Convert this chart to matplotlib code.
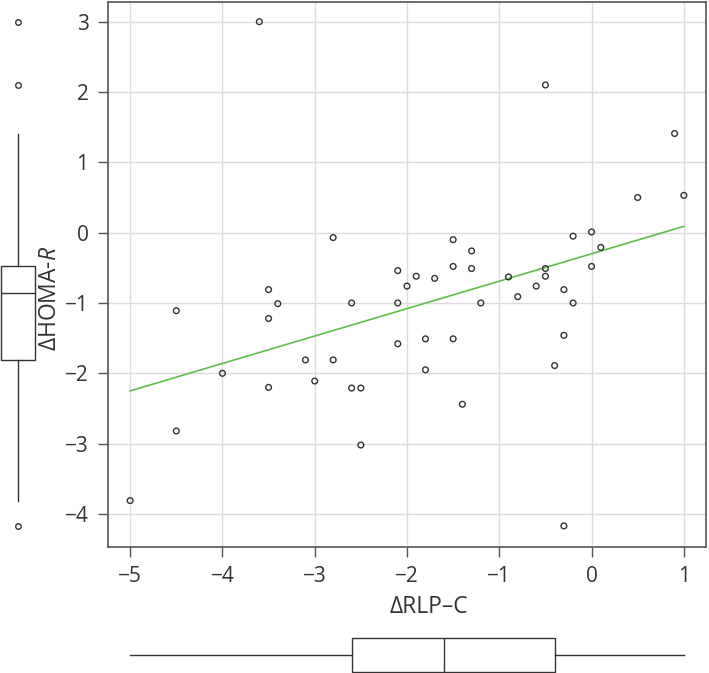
import numpy as np
import matplotlib
matplotlib.use('Agg')
import matplotlib.pyplot as plt

# data (ΔRLP-C vs ΔHOMA-R)
rlp_c = [-3.6, -2.8, -2.1, -0.5, 0.9, 0.5, 1.0, -0.2, 0.0, 0.1,
         -1.5, -1.3, -1.5, -1.3, -1.9, -1.7, -0.9, -0.5, -0.5, 0.0,
         -2.1, -2.1, -3.5, -3.4, -3.5, -4.5, -2.6, -3.1, -2.8, -4.0,
         -3.0, -3.5, -2.6, -2.5, -4.5, -2.5, -5.0, -2.0, -0.8, -0.6,
         -0.3, -0.2, -1.8, -1.5, -1.8, -1.2, -0.3, -0.4, -1.4, -0.3]
homa_r = [3.0, -0.07, -0.54, 2.1, 1.41, 0.5, 0.53, -0.05, 0.01, -0.21,
          -0.10, -0.26, -0.48, -0.51, -0.62, -0.65, -0.63, -0.51, -0.62, -0.48,
          -1.0, -1.58, -0.81, -1.01, -1.22, -1.11, -1.0, -1.81, -1.81, -2.0,
          -2.11, -2.2, -2.21, -2.21, -2.82, -3.02, -3.81, -0.76, -0.91, -0.76,
          -0.81, -1.0, -1.51, -1.51, -1.95, -1.0, -1.46, -1.89, -2.44, -4.17]
x_ticks = [-5, -4, -3, -2, -1, 0, 1]
y_ticks = [-4, -3, -2, -1, 0, 1, 2, 3]

# fit line as shown in the reference
fit_slope = 0.39
fit_intercept = -0.30

# box plot statistics as shown in the marginal plots
homa_box = dict(med=-0.86, q1=-1.81, q3=-0.48, whislo=-3.81, whishi=1.41,
                fliers=[3.0, 2.1, -4.17])
rlp_box = dict(med=-1.6, q1=-2.6, q3=-0.4, whislo=-5.0, whishi=1.0, fliers=[])

plt.rcParams['font.family'] = ['Open Sans', 'DejaVu Sans']
plt.rcParams['mathtext.fontset'] = 'custom'
plt.rcParams['mathtext.it'] = 'Open Sans:italic'
plt.rcParams['axes.unicode_minus'] = True

W, H = 709, 673
fig = plt.figure(figsize=(W / 100, H / 100), dpi=100)

def frac(x0, y0, x1, y1):
    # pixel box (top-left origin) -> figure fraction
    return [x0 / W, 1 - y1 / H, (x1 - x0) / W, (y1 - y0) / H]

ax = fig.add_axes(frac(108, 2, 706, 547))
xlim = (-5.24, 1.24)
ylim = (-4.47, 3.28)

ax.scatter(rlp_c, homa_r, s=17, facecolors='none', edgecolors='#333333',
           linewidths=1.0, zorder=3)

xs = np.array([min(rlp_c), max(rlp_c)])
ax.plot(xs, fit_slope * xs + fit_intercept, color='#5cbf4a', lw=1.2, zorder=2)

ax.set_xlim(xlim)
ax.set_ylim(ylim)
ax.set_xticks(x_ticks)
ax.set_yticks(y_ticks)
ax.grid(True, color='#dcdcdc', lw=1.0)
ax.set_axisbelow(True)
for sp in ax.spines.values():
    sp.set_color('#555555')
    sp.set_linewidth(1.2)
ax.tick_params(direction='out', length=7, width=1, color='#555555',
               labelsize=15, labelcolor='#333333', pad=7)
ax.set_xlabel('ΔRLP–C', fontsize=16.5, color='#333333')
ax.set_ylabel('ΔHOMA-$\\mathit{R}$', fontsize=16.5, color='#333333')
ax.xaxis.set_label_coords(0.536, -0.088)
ax.yaxis.set_label_coords(-0.077, 0.457)

box_style = dict(showcaps=False, patch_artist=True,
                 boxprops=dict(facecolor='white', edgecolor='#333333', lw=1),
                 medianprops=dict(color='#333333', lw=1),
                 whiskerprops=dict(color='#333333', lw=1),
                 flierprops=dict(marker='o', markersize=4, markerfacecolor='none',
                                 markeredgecolor='#333333', markeredgewidth=1))

# left marginal box plot
axl = fig.add_axes(frac(0, 2, 40, 547))
axl.bxp([homa_box], positions=[0], widths=34, **box_style)
axl.set_ylim(ylim)
axl.set_xlim(-17.5, 22.5)
axl.axis('off')

# bottom marginal box plot
axb = fig.add_axes(frac(108, 633, 706, 673))
axb.bxp([rlp_box], positions=[0], widths=34, orientation='horizontal', **box_style)
axb.set_xlim(xlim)
axb.set_ylim(-18, 22)
axb.axis('off')

fig.savefig('out.png', dpi=100)
